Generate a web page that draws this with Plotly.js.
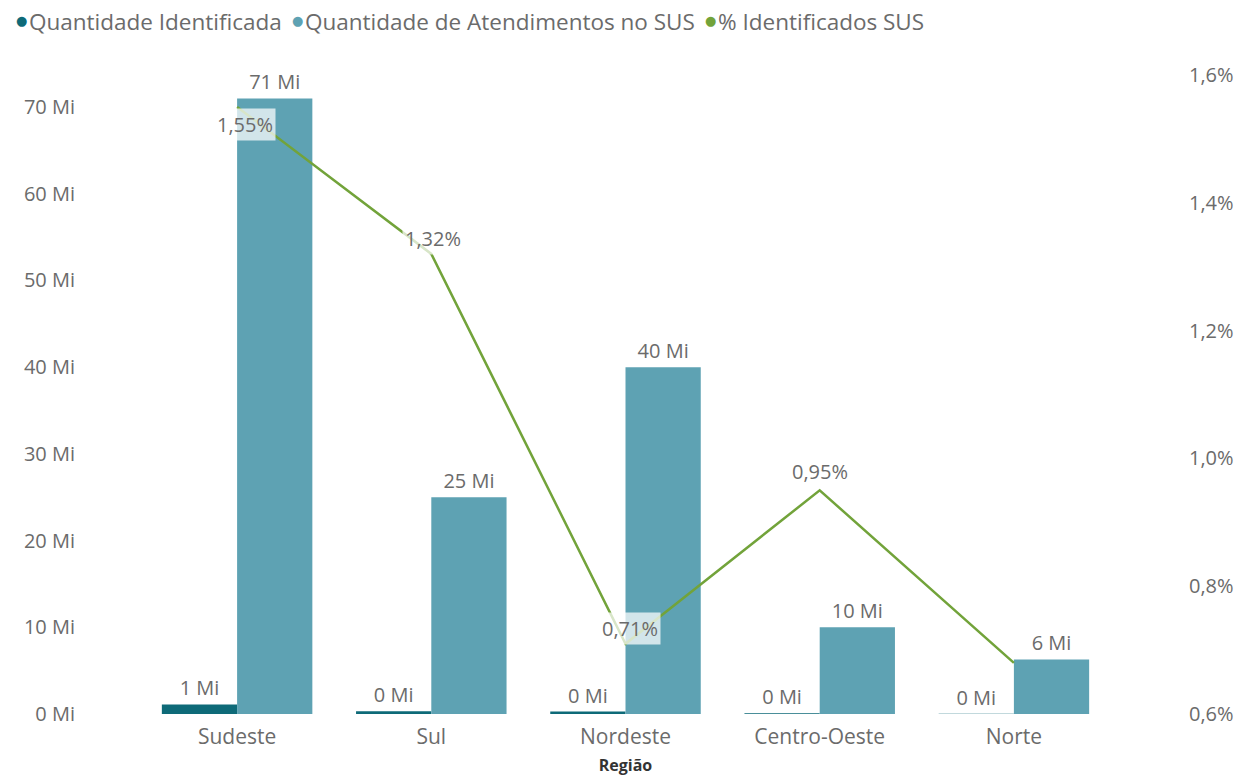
<!DOCTYPE html>
<html>
<head>
<meta charset="utf-8">
<script src="https://cdn.plot.ly/plotly-3.0.1.min.js"></script>
<style>
html,body{margin:0;padding:0;background:#fff;}
#chart{width:1240px;height:778px;}
</style>
</head>
<body>
<div id="chart"></div>
<script>
// ---- data ----
const regioes = ["Sudeste", "Sul", "Nordeste", "Centro-Oeste", "Norte"];
const qtdIdentificada = [1.1, 0.33, 0.28, 0.095, 0.043];      // Mi
const qtdAtendimentos = [71, 25, 40, 10, 6.3];                  // Mi
const pctIdentificados = [1.55, 1.32, 0.71, 0.95, 0.68];        // %
const seriesNames = ["Quantidade Identificada", "Quantidade de Atendimentos no SUS", "% Identificados SUS"];
const xTitle = "Região";

// ---- styles ----
const FONT = "'Segoe UI', 'Open Sans', sans-serif";
const GRAY = "#6b6b6b";
const colIdent = "#0e6a78";
const colAtend = "#5ea2b3";
const colPct = "#72a33a";
// label placement (pixels) for the % labels, and which are shown
const pctLabelShift = [[8, -18], [2, 15], [4, 15], [0, 19], [0, 15]];
const pctLabelShow = [true, true, true, true, false];
// legend layout (pixel x of each bullet centre and text start)
const PLOT_L = 140, PLOT_W = 971;
const legBulletPx = [21, 297, 710];
const legTextPx = [27, 303, 716];

const fmtMi = v => Math.round(v) + " Mi";
const fmtPct = v => v.toFixed(2).replace(".", ",") + "%";

const traces = [
  {
    type: "bar", name: seriesNames[0], x: regioes, y: qtdIdentificada,
    marker: {color: colIdent}, text: qtdIdentificada.map(fmtMi),
    textposition: "outside", cliponaxis: false,
    textfont: {family: FONT, size: 20, color: GRAY},
    showlegend: false, hoverinfo: "x+y"
  },
  {
    type: "bar", name: seriesNames[1], x: regioes, y: qtdAtendimentos,
    marker: {color: colAtend}, text: qtdAtendimentos.map(fmtMi),
    textposition: "outside", cliponaxis: false,
    textfont: {family: FONT, size: 20, color: GRAY},
    showlegend: false, hoverinfo: "x+y"
  },
  {
    type: "scatter", mode: "lines", name: seriesNames[2], x: regioes, y: pctIdentificados,
    yaxis: "y2", line: {color: colPct, width: 2.5}, cliponaxis: false,
    showlegend: false
  }
];

const annotations = [];
regioes.forEach((r, i) => {
  if (!pctLabelShow[i]) return;
  annotations.push({
    x: r, y: pctIdentificados[i], xref: "x", yref: "y2",
    text: fmtPct(pctIdentificados[i]), showarrow: false,
    xshift: pctLabelShift[i][0], yshift: pctLabelShift[i][1],
    bgcolor: "rgba(255,255,255,0.72)", borderpad: 2,
    font: {family: FONT, size: 20, color: GRAY}
  });
});

// legend drawn as bullets + text at the top
const legColors = [colIdent, colAtend, colPct];
const toPaperX = px => (px - PLOT_L) / PLOT_W;
seriesNames.forEach((n, i) => {
  annotations.push({
    xref: "paper", yref: "paper", x: toPaperX(legBulletPx[i]), y: 1.083,
    xanchor: "center", yanchor: "middle", yshift: 1,
    text: "●", showarrow: false,
    font: {family: "DejaVu Sans", size: 13, color: legColors[i]}
  });
  annotations.push({
    xref: "paper", yref: "paper", x: toPaperX(legTextPx[i]), y: 1.083,
    xanchor: "left", yanchor: "middle",
    text: n, showarrow: false,
    font: {family: FONT, size: 22.5, color: GRAY}
  });
});

const layout = {
  width: 1240, height: 778,
  margin: {l: PLOT_L, r: 1240 - PLOT_L - PLOT_W, t: 75, b: 64},
  paper_bgcolor: "#ffffff", plot_bgcolor: "#ffffff",
  separators: ",.",
  barmode: "group", bargap: 0.225, bargroupgap: 0,
  font: {family: FONT, size: 20, color: GRAY},
  showlegend: false,
  xaxis: {
    showgrid: false, zeroline: false, showline: false, ticks: "",
    ticklabelstandoff: 8,
    tickfont: {family: FONT, size: 21, color: GRAY},
    title: {text: xTitle, font: {family: FONT, size: 16, color: "#333333", weight: "bold"}, standoff: 10}
  },
  yaxis: {
    range: [0, 73.7], dtick: 10, ticksuffix: " Mi",
    showgrid: false, zeroline: false, showline: false, ticks: "",
    ticklabelstandoff: 64,
    tickfont: {family: FONT, size: 20, color: GRAY}
  },
  yaxis2: {
    overlaying: "y", side: "right", range: [0.6, 1.6], dtick: 0.2,
    tickformat: ".1f", ticksuffix: "%",
    showgrid: false, zeroline: false, showline: false, ticks: "",
    ticklabelstandoff: 77,
    tickfont: {family: FONT, size: 20, color: GRAY}
  },
  annotations: annotations
};

Plotly.newPlot("chart", traces, layout, {displayModeBar: false, staticPlot: true});
</script>
</body>
</html>
